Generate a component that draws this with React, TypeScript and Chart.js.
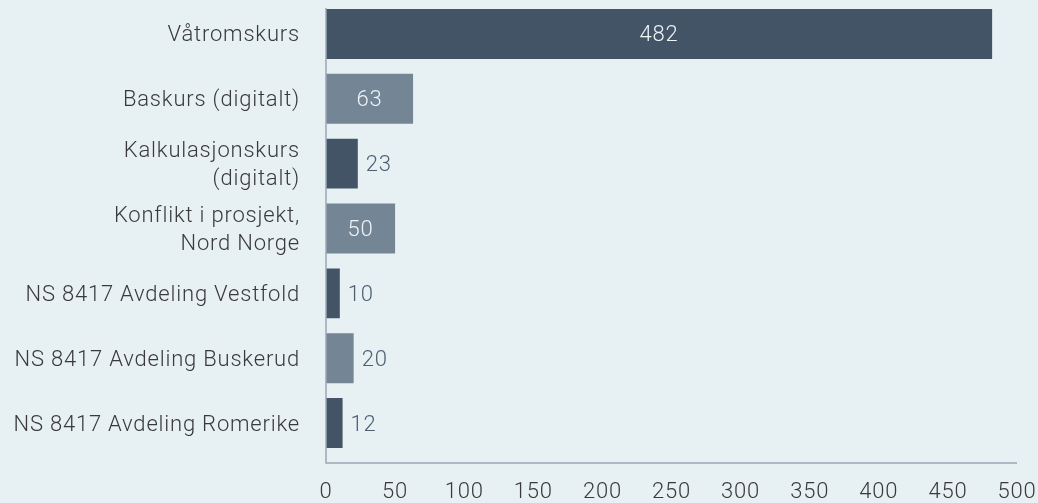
import React, { useEffect, useRef } from "react";
import { Chart, registerables } from "chart.js";

Chart.register(...registerables);

// ---- data ----
const categories: string[][] = [
  ["Våtromskurs"],
  ["Baskurs (digitalt)"],
  ["Kalkulasjonskurs", "(digitalt)"],
  ["Konflikt i prosjekt,", "Nord Norge"],
  ["NS 8417 Avdeling Vestfold"],
  ["NS 8417 Avdeling Buskerud"],
  ["NS 8417 Avdeling Romerike"],
];
const values: number[] = [482, 63, 23, 50, 10, 20, 12];
const axisMin = 0;
const axisMax = 500;
const axisStep = 50;

// ---- styles ----
const BG = "#e7f0f3";
const DARK = "#435467";
const LIGHT = "#748696";
const TEXT = "#3a3a3a";
const VALUE_OUT = "#4d5f73";
const VALUE_IN = "#eef3f6";
const AXIS = "#9aa8b4";
const FONT = "Roboto";
const SPACING = "0.8px";

const spacingPlugin = {
  id: "spacing",
  beforeUpdate(chart: any) {
    chart.ctx.letterSpacing = SPACING;
  },
  beforeDraw(chart: any) {
    chart.ctx.letterSpacing = SPACING;
  },
};

const valueLabels = {
  id: "valueLabels",
  afterDatasetsDraw(chart: any) {
    const ctx = chart.ctx;
    const meta = chart.getDatasetMeta(0);
    ctx.save();
    ctx.letterSpacing = SPACING;
    ctx.font = `300 22px ${FONT}`;
    ctx.textBaseline = "middle";
    meta.data.forEach((bar: any, i: number) => {
      const txt = String(values[i]);
      const w = ctx.measureText(txt).width;
      const barW = bar.x - bar.base;
      if (barW > w + 24) {
        ctx.fillStyle = VALUE_IN;
        ctx.textAlign = "center";
        ctx.fillText(txt, (bar.x + bar.base) / 2, bar.y + 2);
      } else {
        ctx.fillStyle = VALUE_OUT;
        ctx.textAlign = "left";
        ctx.fillText(txt, bar.x + 8, bar.y + 2);
      }
    });
    ctx.restore();
  },
};

const axisLines = {
  id: "axisLines",
  afterDraw(chart: any) {
    const ctx = chart.ctx;
    const area = chart.chartArea;
    const x0 = chart.scales.x.getPixelForValue(axisMin);
    const x1 = chart.scales.x.getPixelForValue(axisMax);
    const yb = area.bottom + 7.5;
    ctx.save();
    ctx.strokeStyle = AXIS;
    ctx.lineWidth = 1.5;
    ctx.beginPath();
    ctx.moveTo(x0, area.top + 6.5);
    ctx.lineTo(x0, yb);
    ctx.lineTo(x1, yb);
    ctx.stroke();
    ctx.restore();
  },
};

export default function App() {
  const ref = useRef<HTMLCanvasElement | null>(null);

  useEffect(() => {
    document.body.style.margin = "0";
    document.body.style.background = BG;
    const chart = new Chart(ref.current as HTMLCanvasElement, {
      type: "bar",
      data: {
        labels: categories,
        datasets: [
          {
            data: values,
            backgroundColor: values.map((_, i) => (i % 2 === 0 ? DARK : LIGHT)),
            borderWidth: 0,
            barPercentage: 0.77,
            categoryPercentage: 1,
          },
        ],
      },
      options: {
        indexAxis: "y",
        animation: false,
        responsive: false,
        maintainAspectRatio: false,
        layout: { padding: { top: 1.5, right: 21, left: 0, bottom: 0 } },
        plugins: {
          legend: { display: false },
          tooltip: { enabled: false },
        },
        scales: {
          x: {
            min: axisMin,
            max: axisMax,
            grid: { display: false, drawTicks: false },
            border: { display: false },
            ticks: {
              stepSize: axisStep,
              color: TEXT,
              font: { family: FONT, size: 22, weight: 300 },
              padding: 24,
              maxRotation: 0,
            },
            afterFit(scale: any) {
              scale.height = 47.5;
              scale.paddingLeft = 0;
              scale.paddingRight = 0;
              scale.paddingTop = 0;
              scale.paddingBottom = 0;
            },
          },
          y: {
            grid: { display: false, drawTicks: false },
            border: { display: false },
            ticks: {
              color: TEXT,
              font: { family: FONT, size: 22, weight: 300, lineHeight: 1.27 },
              padding: 26,
              autoSkip: false,
              labelOffset: 2,
            },
            afterFit(scale: any) {
              scale.width = 326;
              scale.paddingLeft = 0;
              scale.paddingRight = 0;
              scale.paddingTop = 0;
              scale.paddingBottom = 0;
            },
          },
        },
      },
      plugins: [spacingPlugin, valueLabels, axisLines],
    });
    return () => chart.destroy();
  }, []);

  return (
    <div style={{ width: 1038, height: 503, background: BG, position: "relative" }}>
      <canvas ref={ref} width={1038} height={503} style={{ display: "block" }} />
    </div>
  );
}
